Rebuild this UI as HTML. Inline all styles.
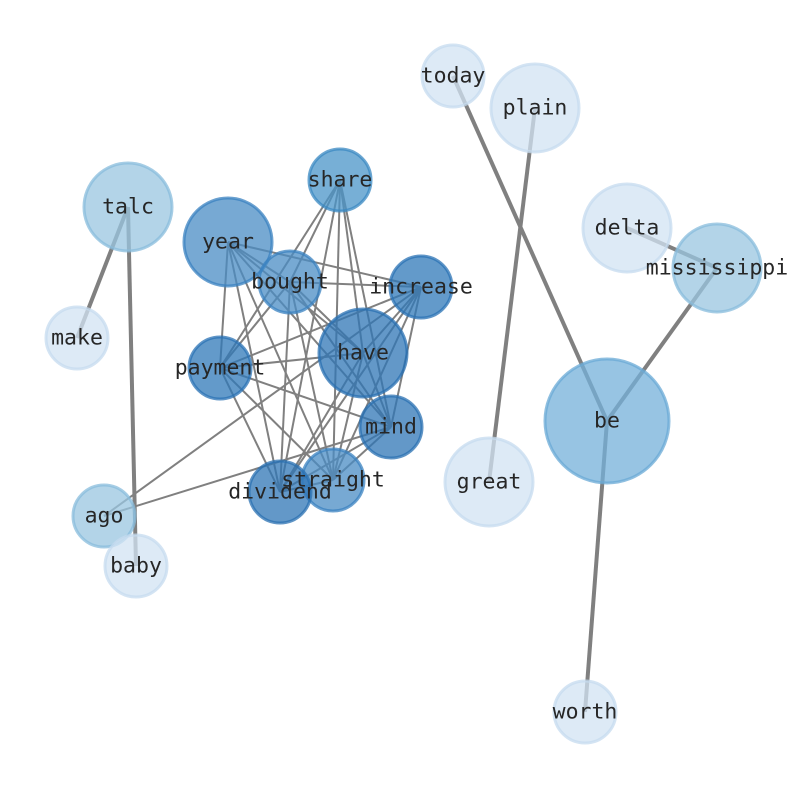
<!DOCTYPE html>
<html><head><meta charset="utf-8"><style>
html,body{margin:0;padding:0;background:#fff;}
svg text{font-family:"DejaVu Sans Mono","Liberation Mono",monospace;font-size:21.5px;fill:#262626;text-anchor:middle;dominant-baseline:central;}
</style></head><body>
<svg width="794" height="790" viewBox="0 0 794 790" xmlns="http://www.w3.org/2000/svg">
<g stroke="#808080" stroke-width="2" fill="none">
<line x1="340" y1="180" x2="290" y2="282"/>
<line x1="340" y1="180" x2="363" y2="353"/>
<line x1="340" y1="180" x2="220" y2="368"/><line x1="340" y1="180" x2="391" y2="427"/>
<line x1="340" y1="180" x2="333" y2="480"/><line x1="340" y1="180" x2="280" y2="492"/>
<line x1="228" y1="242" x2="290" y2="282"/><line x1="228" y1="242" x2="421" y2="287"/>
<line x1="228" y1="242" x2="363" y2="353"/><line x1="228" y1="242" x2="220" y2="368"/>
<line x1="228" y1="242" x2="391" y2="427"/><line x1="228" y1="242" x2="333" y2="480"/>
<line x1="228" y1="242" x2="280" y2="492"/>
<line x1="290" y1="282" x2="421" y2="287"/><line x1="290" y1="282" x2="363" y2="353"/>
<line x1="290" y1="282" x2="220" y2="368"/><line x1="290" y1="282" x2="391" y2="427"/>
<line x1="290" y1="282" x2="333" y2="480"/><line x1="290" y1="282" x2="280" y2="492"/>
<line x1="421" y1="287" x2="363" y2="353"/><line x1="421" y1="287" x2="220" y2="368"/>
<line x1="421" y1="287" x2="391" y2="427"/><line x1="421" y1="287" x2="333" y2="480"/>
<line x1="421" y1="287" x2="280" y2="492"/>
<line x1="363" y1="353" x2="220" y2="368"/><line x1="363" y1="353" x2="391" y2="427"/>
<line x1="363" y1="353" x2="333" y2="480"/><line x1="363" y1="353" x2="280" y2="492"/>
<line x1="220" y1="368" x2="391" y2="427"/><line x1="220" y1="368" x2="333" y2="480"/>
<line x1="220" y1="368" x2="280" y2="492"/>
<line x1="391" y1="427" x2="333" y2="480"/><line x1="391" y1="427" x2="280" y2="492"/>
<line x1="333" y1="480" x2="280" y2="492"/>
<line x1="104" y1="516" x2="421" y2="287"/><line x1="104" y1="516" x2="391" y2="427"/>
</g>
<g stroke="#808080" stroke-width="4" fill="none">
<line x1="128" y1="207" x2="77" y2="338"/><line x1="128" y1="207" x2="136" y2="566"/>
<line x1="453" y1="76" x2="607" y2="421"/><line x1="535" y1="108" x2="489" y2="482"/>
<line x1="627" y1="228" x2="717" y2="268"/><line x1="717" y1="268" x2="607" y2="421"/>
<line x1="607" y1="421" x2="585" y2="712"/>
</g>
<g stroke-width="3" fill-opacity="0.75" stroke-opacity="0.75">
<circle cx="228" cy="242" r="44" fill="#4a8cc4" stroke="#3a82c0"/>
<circle cx="340" cy="180" r="31" fill="#4a94c8" stroke="#3a88c2"/>
<circle cx="290" cy="282" r="31" fill="#4a8cc4" stroke="#3a82c0"/>
<circle cx="421" cy="287" r="31" fill="#2f78b8" stroke="#2a72b4"/>
<circle cx="363" cy="353" r="44" fill="#2f76b6" stroke="#2a70b2"/>
<circle cx="220" cy="368" r="31" fill="#2f78b8" stroke="#2a72b4"/>
<circle cx="391" cy="427" r="31" fill="#2f76b6" stroke="#2a70b2"/>
<circle cx="333" cy="480" r="31" fill="#4a8cc4" stroke="#3a82c0"/>
<circle cx="280" cy="492" r="31" fill="#2f76b6" stroke="#2a70b2"/>
<circle cx="128" cy="207" r="44" fill="#9ac6e0" stroke="#88bcdc"/>
<circle cx="77" cy="338" r="31" fill="#d2e3f3" stroke="#c6dbef"/>
<circle cx="104" cy="516" r="31" fill="#9ac6e0" stroke="#88bcdc"/>
<circle cx="136" cy="566" r="31" fill="#d2e3f3" stroke="#c6dbef"/>
<circle cx="453" cy="76" r="31" fill="#d2e3f3" stroke="#c6dbef"/>
<circle cx="535" cy="108" r="44" fill="#d2e3f3" stroke="#c6dbef"/>
<circle cx="627" cy="228" r="44" fill="#d2e3f3" stroke="#c6dbef"/>
<circle cx="717" cy="268" r="44" fill="#9ac6e0" stroke="#88bcdc"/>
<circle cx="607" cy="421" r="62" fill="#74b0da" stroke="#6aaad6"/>
<circle cx="489" cy="482" r="44" fill="#d2e3f3" stroke="#c6dbef"/>
<circle cx="585" cy="712" r="31" fill="#d2e3f3" stroke="#c6dbef"/>
</g>
<text x="340" y="180">share</text><text x="228" y="242">year</text>
<text x="290" y="282">bought</text><text x="421" y="287">increase</text>
<text x="363" y="353">have</text><text x="220" y="368">payment</text>
<text x="391" y="427">mind</text><text x="333" y="480">straight</text>
<text x="280" y="492">dividend</text><text x="128" y="207">talc</text>
<text x="77" y="338">make</text><text x="104" y="516">ago</text>
<text x="136" y="566">baby</text><text x="453" y="76">today</text>
<text x="535" y="108">plain</text><text x="627" y="228">delta</text>
<text x="717" y="268">mississippi</text><text x="607" y="421">be</text>
<text x="489" y="482">great</text><text x="585" y="712">worth</text>
</svg>
</body></html>
